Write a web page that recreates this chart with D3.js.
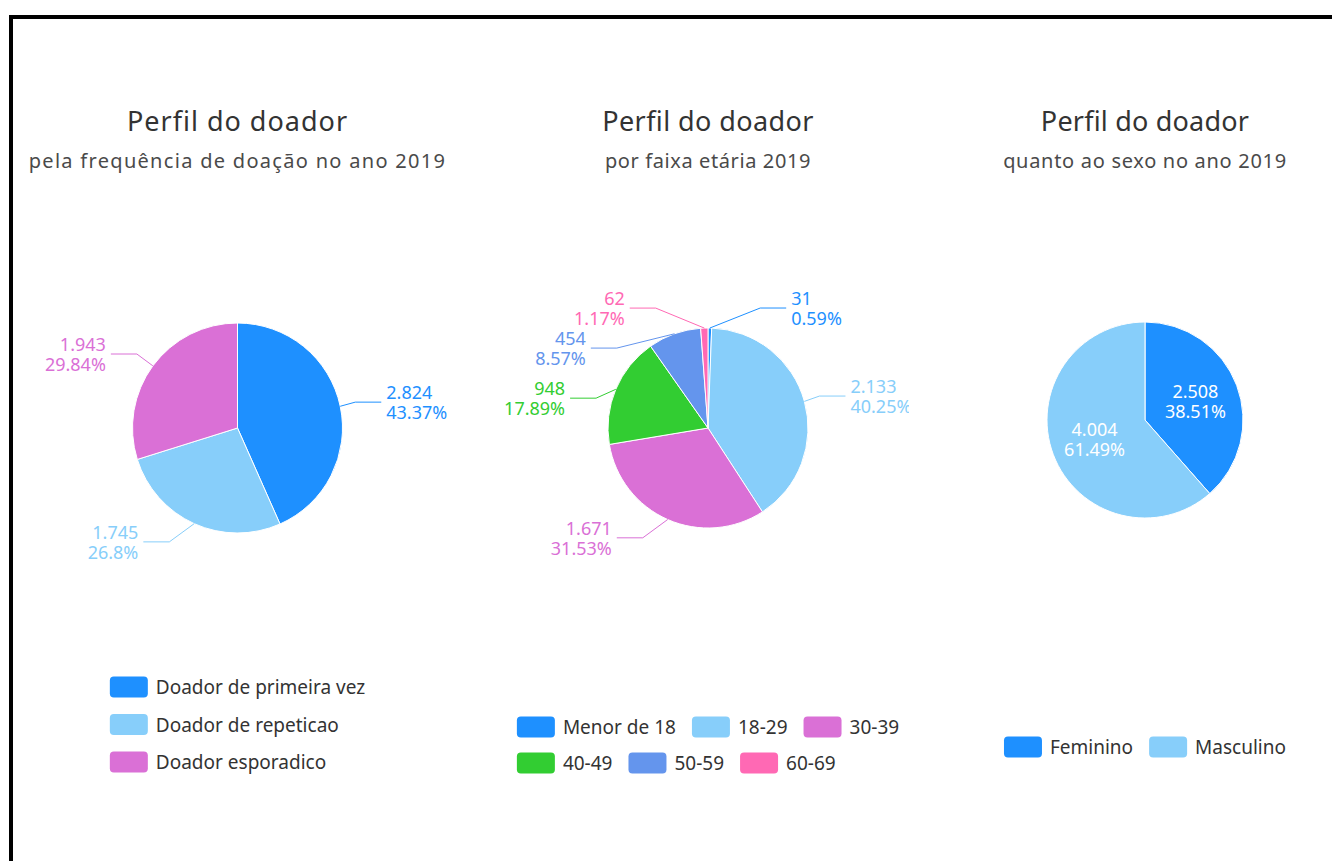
<!DOCTYPE html>
<html>
<head>
<meta charset="utf-8">
<script src="https://cdn.jsdelivr.net/npm/d3@7"></script>
<style>
body { margin: 0; background: #fff; }
svg { display: block; font-family: "Noto Sans", sans-serif; }
</style>
</head>
<body>
<div id="chart"></div>
<script>
// dados
var freqLabels = ["Doador de primeira vez", "Doador de repeticao", "Doador esporadico"];
var freqValues = [2824, 1745, 1943];
var freqColors = ["#1E90FF", "#87CEFA", "#DA70D6"];

var idadeLabels = ["Menor de 18", "18-29", "30-39", "40-49", "50-59", "60-69"];
var idadeValues = [31, 2133, 1671, 948, 454, 62];
var idadeColors = ["#1E90FF", "#87CEFA", "#DA70D6", "#32CD32", "#6495ED", "#FF69B4"];

var sexoLabels = ["Feminino", "Masculino"];
var sexoValues = [2508, 4004];
var sexoColors = ["#1E90FF", "#87CEFA"];

var titulo = "Perfil do doador";
var subtitulos = ["pela frequência de doação no ano 2019", "por faixa etária 2019", "quanto ao sexo no ano 2019"];

var width = 1332, height = 861;

var br = d3.formatLocale({decimal: ",", thousands: ".", grouping: [3], currency: ["R$", ""]});
var fmtNum = br.format(",d");
function fmtPct(v) { return parseFloat(v.toFixed(2)) + "%"; }

var svg = d3.select("#chart").append("svg")
    .attr("width", width)
    .attr("height", height);

// moldura
svg.append("rect")
    .attr("x", 11).attr("y", 17)
    .attr("width", width + 20).attr("height", height + 20)
    .attr("fill", "none")
    .attr("stroke", "#000")
    .attr("stroke-width", 4);

var panels = [
    {labels: freqLabels, values: freqValues, colors: freqColors, sub: subtitulos[0],
     cx: 237.5, cy: 428, r: 105, clipRight: 447, inside: false,
     titleSpacing: 1, subSpacing: 1.3,
     legend: {vertical: true, y: 687, maxWidth: 420}},
    {labels: idadeLabels, values: idadeValues, colors: idadeColors, sub: subtitulos[1],
     cx: 708, cy: 428, r: 100, clipRight: 909, inside: false,
     titleSpacing: 0.4, subSpacing: 0.6,
     legend: {vertical: false, y: 727, maxWidth: 420}},
    {labels: sexoLabels, values: sexoValues, colors: sexoColors, sub: subtitulos[2],
     cx: 1145, cy: 420, r: 98, clipRight: 1332, inside: true,
     titleSpacing: 0.2, subSpacing: 0.7,
     legend: {vertical: false, y: 747, maxWidth: 420}}
];

var len1 = 20, len2 = 26, labelH = 40, lineGap = 20;

// posicionamento dos rótulos (evita sobreposição, estilo echarts)
function layoutSide(items, cx, cy, r, dir) {
    items.sort(function(a, b) { return a.y - b.y; });
    function shiftUp(end, delta) {
        for (var j = end; j >= 0; j--) {
            items[j].y -= delta;
            if (j > 0 && items[j].y > items[j - 1].y + labelH) break;
        }
    }
    function shiftDown(start, end, delta) {
        for (var j = start; j < end; j++) {
            items[j].y += delta;
            if (j > start && j + 1 < end && items[j + 1].y > items[j].y + labelH) {
                shiftUp(j, delta / 2);
                return;
            }
        }
        shiftUp(end - 1, delta / 2);
    }
    var lastY = 0;
    for (var i = 0; i < items.length; i++) {
        var delta = items[i].y - lastY;
        if (delta < 0) shiftDown(i, items.length, -delta);
        lastY = items[i].y + labelH;
    }
    function changeX(list, isDown) {
        var last = isDown ? Infinity : 0;
        list.forEach(function(d) {
            var dy = Math.abs(d.y - cy);
            var R = r + len1 + len2;
            var dx = dy < r + len1 ? Math.sqrt(R * R - dy * dy) : Math.abs(d.x - cx);
            if (isDown && dx >= last) dx = last - 10;
            if (!isDown && dx <= last) dx = last + 10;
            d.x = cx + dx * dir;
            last = dx;
        });
    }
    changeX(items.filter(function(d) { return d.y < cy; }), false);
    changeX(items.filter(function(d) { return d.y >= cy; }), true);
}

panels.forEach(function(p, pi) {
    var total = d3.sum(p.values);
    var color = d3.scaleOrdinal().domain(p.labels).range(p.colors);

    var clipId = "clip" + pi;
    svg.append("clipPath").attr("id", clipId)
        .append("rect")
        .attr("x", p.cx - 300).attr("y", 20)
        .attr("width", p.clipRight - (p.cx - 300)).attr("height", height);

    var g = svg.append("g").attr("clip-path", "url(#" + clipId + ")");

    g.append("text")
        .attr("x", p.cx).attr("y", 120)
        .attr("text-anchor", "middle")
        .attr("dominant-baseline", "central")
        .attr("font-size", 27)
        .attr("letter-spacing", p.titleSpacing)
        .attr("fill", "#333")
        .text(titulo);

    g.append("text")
        .attr("x", p.cx).attr("y", 160)
        .attr("text-anchor", "middle")
        .attr("dominant-baseline", "central")
        .attr("font-size", 20)
        .attr("letter-spacing", p.subSpacing)
        .attr("fill", "#4a4a4a")
        .text(p.sub);

    var data = p.labels.map(function(l, i) { return {name: l, value: p.values[i]}; });
    var pie = d3.pie().sort(null).value(function(d) { return d.value; });
    var arcs = pie(data);
    var arc = d3.arc().innerRadius(0).outerRadius(p.r);

    var pg = g.append("g").attr("transform", "translate(" + p.cx + "," + p.cy + ")");
    pg.selectAll("path")
        .data(arcs)
        .enter().append("path")
        .attr("d", arc)
        .attr("fill", function(d) { return color(d.data.name); })
        .attr("stroke", "#fff")
        .attr("stroke-width", 1);

    if (p.inside) {
        var inner = d3.arc().innerRadius(p.r * 0.55).outerRadius(p.r * 0.55);
        arcs.forEach(function(d) {
            var c = inner.centroid(d);
            var t = pg.append("text")
                .attr("text-anchor", "middle")
                .attr("font-size", 18)
                .attr("fill", "#fff");
            t.append("tspan").attr("x", c[0]).attr("y", c[1] - lineGap / 2)
                .attr("dominant-baseline", "central").text(fmtNum(d.data.value));
            t.append("tspan").attr("x", c[0]).attr("y", c[1] + lineGap / 2)
                .attr("dominant-baseline", "central").text(fmtPct(d.data.value / total * 100));
        });
    } else {
        var left = [], right = [];
        arcs.forEach(function(d) {
            var a = (d.startAngle + d.endAngle) / 2;
            var sx = Math.sin(a), sy = -Math.cos(a);
            var dir = sx < 0 ? -1 : 1;
            var item = {
                d: d, dir: dir,
                p0: [p.cx + p.r * sx, p.cy + p.r * sy],
                x: p.cx + (p.r + len1) * sx + dir * (len2 + 5),
                y: p.cy + (p.r + len1) * sy
            };
            (dir < 0 ? left : right).push(item);
        });
        layoutSide(right, p.cx, p.cy, p.r, 1);
        layoutSide(left, p.cx, p.cy, p.r, -1);

        left.concat(right).forEach(function(it) {
            var c = color(it.d.data.name);
            var x3 = it.x - it.dir * 5;
            var x2 = x3 - it.dir * len2;
            g.append("polyline")
                .attr("points", [it.p0, [x2, it.y], [x3, it.y]].map(function(q) { return q.join(","); }).join(" "))
                .attr("fill", "none")
                .attr("stroke", c)
                .attr("stroke-width", 1);
            var t = g.append("text")
                .attr("text-anchor", it.dir < 0 ? "end" : "start")
                .attr("font-size", 18)
                .attr("fill", c);
            t.append("tspan").attr("x", it.x).attr("y", it.y - lineGap / 2)
                .attr("dominant-baseline", "central").text(fmtNum(it.d.data.value));
            t.append("tspan").attr("x", it.x).attr("y", it.y + lineGap / 2)
                .attr("dominant-baseline", "central").text(fmtPct(it.d.data.value / total * 100));
        });
    }

    // legenda
    var lg = svg.append("g");
    var items = p.labels.map(function(l) {
        var it = lg.append("g");
        it.append("rect")
            .attr("width", 38).attr("height", 21)
            .attr("rx", 4).attr("ry", 4)
            .attr("y", -10.5)
            .attr("fill", color(l));
        var t = it.append("text")
            .attr("x", 46)
            .attr("dominant-baseline", "central")
            .attr("font-size", 19)
            .attr("fill", "#333")
            .text(l);
        return {g: it, w: 46 + t.node().getComputedTextLength()};
    });
    var rows = [];
    if (p.legend.vertical) {
        items.forEach(function(it) { rows.push([it]); });
    } else {
        var row = [], rw = 0;
        items.forEach(function(it) {
            var add = (row.length ? 16 : 0) + it.w;
            if (row.length && rw + add > p.legend.maxWidth) { rows.push(row); row = []; rw = 0; add = it.w; }
            row.push(it); rw += add;
        });
        rows.push(row);
    }
    var rowW = rows.map(function(r) { return d3.sum(r, function(it) { return it.w; }) + 16 * (r.length - 1); });
    var boxW = d3.max(rowW);
    var x0 = p.cx - boxW / 2;
    var rowStep = p.legend.vertical ? 37.5 : 36;
    rows.forEach(function(r, ri) {
        var x = x0;
        r.forEach(function(it) {
            it.g.attr("transform", "translate(" + x + "," + (p.legend.y + ri * rowStep) + ")");
            x += it.w + 16;
        });
    });
});
</script>
</body>
</html>
